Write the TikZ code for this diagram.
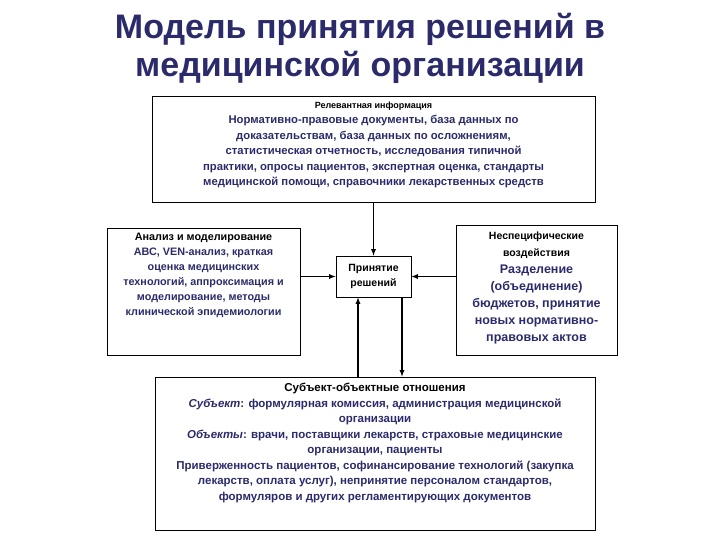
\documentclass[tikz,border=0pt]{standalone}
\usepackage{fontspec}
\setmainfont{Liberation Sans}
\definecolor{navy}{HTML}{2B2B6B}
\begin{document}
\begin{tikzpicture}[x=1pt,y=-1pt,
 box/.style={draw,line width=0.8pt,inner sep=0pt},
 txt/.style={align=center,text=navy},
 arr/.style={-latex,line width=1.2pt}]
\useasboundingbox (0,0) rectangle (720,540);
\node[text=navy,font=\bfseries\fontsize{34}{38}\selectfont,align=center] (title) at (360,48) {Модель принятия решений в\\медицинской организации};
\node[box,minimum width=443pt,minimum height=106pt] (top) at (373.5,149) {};
\node[txt,anchor=north,font=\bfseries\fontsize{11.3}{15.5}\selectfont] (toptxt) at (373.5,98) {{\color{black}\fontsize{9}{12}\selectfont Релевантная информация}\\Нормативно-правовые документы, база данных по\\доказательствам, база данных по осложнениям,\\статистическая отчетность, исследования типичной\\практики, опросы пациентов, экспертная оценка, стандарты\\медицинской помощи, справочники лекарственных средств};
\node[box,minimum width=193pt,minimum height=127pt] (left) at (203.5,291.5) {};
\node[txt,anchor=north,font=\bfseries\fontsize{10.8}{15}\selectfont] (lefttxt) at (203.5,230) {{\color{black}Анализ и моделирование}\\АВС, VEN-анализ, краткая\\оценка медицинских\\технологий, аппроксимация и\\моделирование, методы\\клинической эпидемиологии};
\node[box,minimum width=75pt,minimum height=41pt,txt,text=black,font=\bfseries\fontsize{10.5}{15}\selectfont] (dec) at (373.5,276.5) {Принятие\\решений};
\node[box,minimum width=161pt,minimum height=130pt] (right) at (536.5,290) {};
\node[txt,anchor=north,font=\bfseries\fontsize{12.5}{17}\selectfont] (righttxt) at (536.5,228) {{\color{black}\fontsize{10.5}{13}\selectfont Неспецифические}\\{\color{black}\fontsize{10.5}{13}\selectfont воздействия}\\Разделение\\(объединение)\\бюджетов, принятие\\новых нормативно-\\правовых актов};
\node[box,minimum width=440pt,minimum height=153pt] (bot) at (375,453.5) {};
\node[txt,anchor=north,font=\bfseries\fontsize{11.5}{15.5}\selectfont] (bottxt) at (375,380) {{\color{black}Субъект-объектные отношения}\\\textit{Субъект}: формулярная комиссия, администрация медицинской\\организации\\\textit{Объекты}: врачи, поставщики лекарств, страховые медицинские\\организации, пациенты\\Приверженность пациентов, софинансирование технологий (закупка\\лекарств, оплата услуг), непринятие персоналом стандартов,\\формуляров и других регламентирующих документов};
\draw[arr] (top.south -| dec.north) -- (dec.north);
\draw[arr] (left.east |- dec.west) -- (dec.west);
\draw[arr] (right.west |- dec.east) -- (dec.east);
\draw[arr] (bot.north -| 358,0) -- (dec.south -| 358,0);
\draw[arr] (dec.south -| 402,0) -- (bot.north -| 402,0);
\end{tikzpicture}
\end{document}
